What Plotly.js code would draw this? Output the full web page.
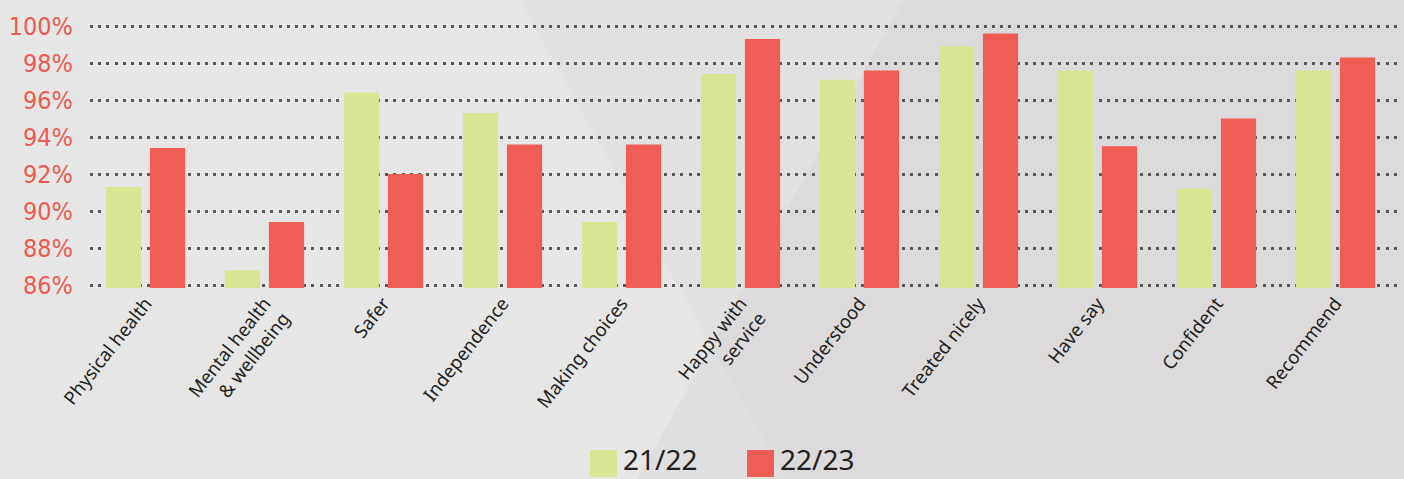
<!DOCTYPE html>
<html>
<head>
<meta charset="utf-8">
<script src="https://cdn.plot.ly/plotly-3.0.1.min.js"></script>
<style>
  html, body { margin: 0; padding: 0; background: #e5e6e5; }
  #chart { width: 1404px; height: 479px; }
</style>
</head>
<body>
<div id="chart"></div>
<script>
// ---- data ----
const categories = ['Physical health', 'Mental health<br>& wellbeing', 'Safer', 'Independence', 'Making choices',
  'Happy with<br>service', 'Understood', 'Treated nicely', 'Have say', 'Confident', 'Recommend'];
const seriesNames = ['21/22', '22/23'];
const values2122 = [91.3, 86.8, 96.4, 95.3, 89.4, 97.4, 97.1, 98.9, 97.6, 91.2, 97.6];
const values2223 = [93.4, 89.4, 92.0, 93.6, 93.6, 99.3, 97.6, 99.6, 93.5, 95.0, 98.3];
const yTickVals = [86, 88, 90, 92, 94, 96, 98, 100];

// ---- geometry / style ----
const W = 1404, H = 479;
const M = {l: 90, r: 2, t: 23, b: 191};
const PW = W - M.l - M.r, PH = H - M.t - M.b;
const colors = ['#d9e593', '#ef5d55'];
const px = x => (x - M.l) / PW;          // pixel -> paper x
const py = y => (M.t + PH - y) / PH;     // pixel -> paper y
const poly = pts => 'M' + pts.map(p => px(p[0]) + ',' + py(p[1])).join('L') + 'Z';

const traces = [values2122, values2223].map((vals, i) => ({
  type: 'bar',
  name: seriesNames[i],
  x: categories,
  y: vals,
  marker: {color: colors[i]},
  hoverinfo: 'x+y'
}));

const shapes = [
  {type: 'path', xref: 'paper', yref: 'paper', layer: 'below', line: {width: 0},
   fillcolor: '#e1e1e1', path: poly([[520, 0], [903, 0], [711, 346]])},
  {type: 'path', xref: 'paper', yref: 'paper', layer: 'below', line: {width: 0},
   fillcolor: '#dcdadb', path: poly([[903, 0], [1410, 0], [1410, 485], [789, 485], [711, 346]])},
  {type: 'path', xref: 'paper', yref: 'paper', layer: 'below', line: {width: 0},
   fillcolor: '#e0dfdf', path: poly([[711, 346], [789, 485], [634, 485]])}
];

// custom legend (large squares)
const legendX = [590, 747];
const annotations = [];
seriesNames.forEach((n, i) => {
  shapes.push({type: 'rect', xref: 'paper', yref: 'paper', layer: 'above', line: {width: 0},
    fillcolor: colors[i], x0: px(legendX[i]), x1: px(legendX[i] + 27), y0: py(450), y1: py(477)});
  annotations.push({xref: 'paper', yref: 'paper', x: px(legendX[i] + 31), y: py(459),
    xanchor: 'left', yanchor: 'middle', showarrow: false, text: n,
    font: {family: 'Noto Sans, sans-serif', size: 28, color: '#231f20'}});
});

const scale = 119; // px per category
const r0 = -(145.5 - M.l) / scale;
const yTop = 100 + 3 / 18.5;

const layout = {
  width: W, height: H,
  margin: M,
  paper_bgcolor: '#e5e6e5',
  plot_bgcolor: 'rgba(0,0,0,0)',
  barmode: 'group',
  bargap: 0.26,
  bargroupgap: 0.2,
  showlegend: false,
  xaxis: {
    type: 'category',
    range: [r0, r0 + PW / scale],
    tickangle: -52,
    showgrid: false, zeroline: false, showline: false, ticks: '',
    tickfont: {family: 'Noto Sans, sans-serif', size: 18.5, color: '#231f20'}
  },
  yaxis: {
    range: [yTop - PH / 18.5, yTop],
    tickvals: yTickVals,
    ticktext: yTickVals.map(v => v + '%'),
    showgrid: true,
    gridcolor: '#5a5a5a',
    gridwidth: 3,
    griddash: '3px,5.2px',
    zeroline: false, showline: false, ticks: '',
    ticklabelstandoff: 16,
    tickfont: {family: 'DejaVu Sans Condensed, Liberation Sans Narrow, sans-serif', size: 25, color: '#ee5a50'}
  },
  shapes: shapes,
  annotations: annotations
};

Plotly.newPlot('chart', traces, layout, {displayModeBar: false, staticPlot: true});
</script>
</body>
</html>
